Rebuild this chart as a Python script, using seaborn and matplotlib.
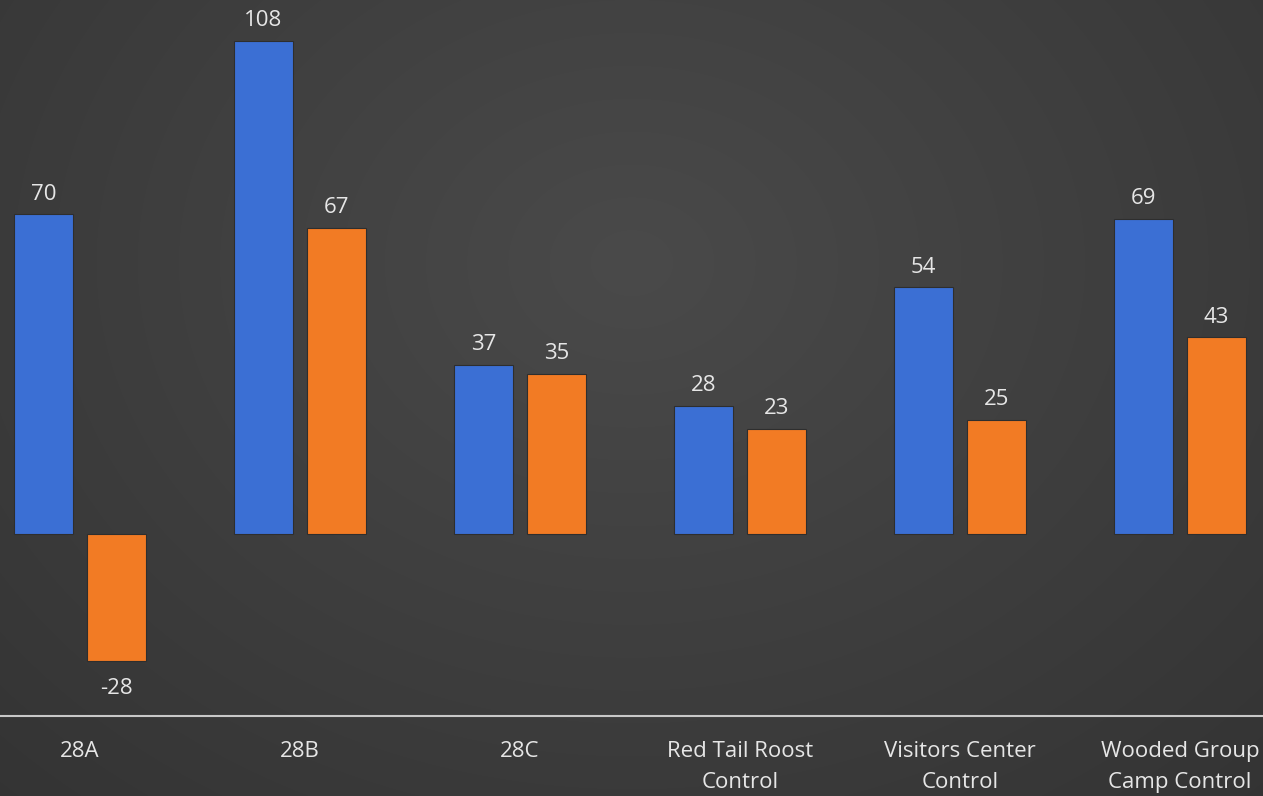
import numpy as np
import pandas as pd
import matplotlib
matplotlib.use("Agg")
import matplotlib.pyplot as plt
import seaborn as sns

categories = ["28A", "28B", "28C", "Red Tail Roost\nControl", "Visitors Center\nControl", "Wooded Group\nCamp Control"]
series_names = ["Series 1", "Series 2"]
series1 = [70, 108, 37, 28, 54, 69]
series2 = [-28, 67, 35, 23, 25, 43]

df = pd.DataFrame({
    "category": categories * 2,
    "series": [series_names[0]] * len(categories) + [series_names[1]] * len(categories),
    "value": series1 + series2,
})

sns.set_theme(style="white")
plt.rcParams["font.family"] = ["Open Sans", "DejaVu Sans"]

W, H = 1263, 796
fig = plt.figure(figsize=(W / 100, H / 100), dpi=100)

# radial gradient background
bg = fig.add_axes([0, 0, 1, 1], zorder=0)
yy, xx = np.mgrid[0:H, 0:W]
cx, cy = W * 0.5, H * 0.33
r = np.sqrt(((xx - cx) / (W * 0.75)) ** 2 + ((yy - cy) / (H * 0.95)) ** 2)
r = np.clip(r, 0, 1)
c_in = np.array([0x4a, 0x4a, 0x4a]) / 255
c_out = np.array([0x33, 0x33, 0x33]) / 255
img = c_in[None, None, :] * (1 - r[..., None]) + c_out[None, None, :] * r[..., None]
bg.imshow(img, aspect="auto", extent=[0, 1, 0, 1])
bg.set_axis_off()

ax = fig.add_axes([0, (H - 716) / H, 1, 716 / H], zorder=1)
ax.patch.set_alpha(0)

sns.barplot(data=df, x="category", y="value", hue="series", order=categories,
            hue_order=series_names, palette=["#3b6fd4", "#f27b24"],
            width=0.664, gap=0.19, dodge=True, legend=False, ax=ax,
            edgecolor="#2e2e2e", linewidth=0.8, saturation=1)

for cont in ax.containers:
    vals = cont.datavalues
    pos_labels = [f"{v:g}" if v >= 0 else "" for v in vals]
    neg_labels = [f"{v:g}" if v < 0 else "" for v in vals]
    ax.bar_label(cont, labels=pos_labels, padding=7, color="#e6e6e6", fontsize=16)
    ax.bar_label(cont, labels=neg_labels, padding=12, color="#e6e6e6", fontsize=16)

ax.set_xlim(-80 / 220, (W - 80) / 220)
ax.set_ylim(-40, 534 / 4.565)
ax.set_xlabel("")
ax.set_ylabel("")
ax.set_yticks([])
for s in ["top", "left", "right"]:
    ax.spines[s].set_visible(False)
ax.spines["bottom"].set_color("#c8c8c8")
ax.spines["bottom"].set_linewidth(1.5)
ax.tick_params(axis="x", length=0, pad=18, labelsize=16, labelcolor="#e6e6e6")
for lab in ax.get_xticklabels():
    lab.set_linespacing(1.65)
    lab.set_verticalalignment("top")

fig.savefig("out.png", dpi=100)
